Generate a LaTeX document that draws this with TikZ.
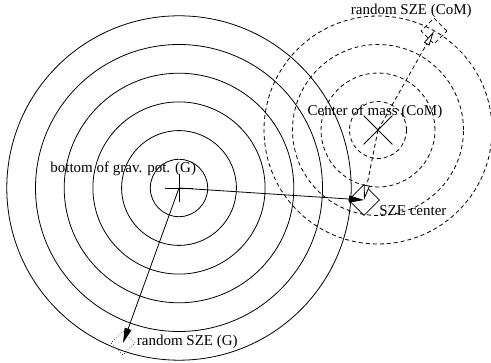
\documentclass[tikz,border=0pt]{standalone}
\usepackage{fontspec}
\setmainfont{Liberation Serif}
\usetikzlibrary{arrows.meta,shapes.geometric,shapes.misc}
\begin{document}
\begin{tikzpicture}[x=1pt,y=-1pt,line width=0.8pt,
  lbl/.style={anchor=base west,inner sep=0pt,font=\fontsize{15}{18}\selectfont},
  comring/.style={dash pattern=on 4pt off 3pt},
  solidarrow/.style={-{Triangle[length=15pt,width=7pt]}},
  dasharrow/.style={dash pattern=on 4pt off 3pt,-{Triangle[length=15pt,width=6pt,fill=white]}},
  box/.style={diamond,draw,inner sep=0pt,minimum size=#1},
  mark/.style={cross out,draw,inner sep=0pt,minimum size=#1}]
\useasboundingbox (0,0) rectangle (491,363);
\coordinate (G) at (179,188);
\coordinate (CoM) at (378,130);
\coordinate (SZE) at (364,200);
\coordinate (rC) at (434,31);
\coordinate (rG) at (123,343);
% potential rings around G
\foreach \k in {1,...,6} \draw (G) circle[radius={28.7pt*\k}];
% dashed rings around CoM
\foreach \k in {1,...,4} \draw[comring] (CoM) circle[radius={28.5pt*\k}];
% markers
\node[mark=19.5pt,rotate=45] (gplus) at (G) {};
\node[mark=28pt] (comx) at (CoM) {};
\node[box=31pt] (szebox) at (SZE) {};
\node[box=26pt,dash pattern=on 4pt off 3pt] (rcbox) at (rC) {};
\node[box=24pt,dotted,line width=0.6pt] (rgbox) at (rG) {};
% arrows
\draw[solidarrow] (G) -- (SZE);
\draw[solidarrow] (G) -- (rG);
\draw[dasharrow] (CoM) -- (SZE);
\draw[dasharrow] (CoM) -- (rC);
% labels
\node[lbl] (lG) at (50,172.7) {bottom of grav. pot. (G)};
\node[lbl] (lCoM) at (307.3,115.7) {Center of mass (CoM)};
\node[lbl] (lrC) at (350.5,15) {random SZE (CoM)};
\node[lbl] (lSZE) at (379,216) {SZE center};
\node[lbl] (lrG) at (136.5,345.5) {random SZE (G)};
\end{tikzpicture}
\end{document}
